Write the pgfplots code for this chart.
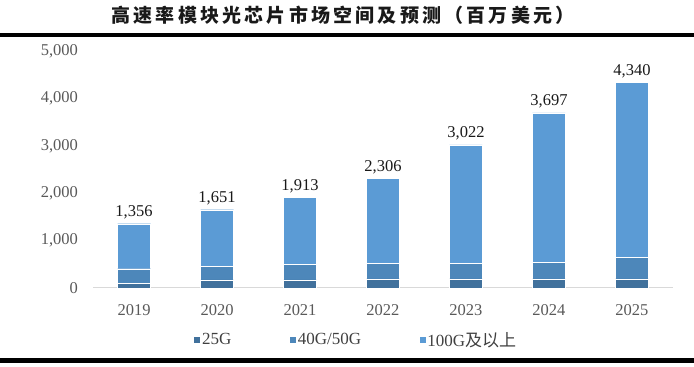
\documentclass[border=0pt]{standalone}
\usepackage{pgfplots}
\pgfplotsset{compat=1.18}
\usepackage{fontspec}
\setmainfont{Liberation Serif}
\newfontfamily\cjk{Noto Sans CJK SC}
\definecolor{c25}{HTML}{41719C}
\definecolor{c40}{HTML}{4D87BA}
\definecolor{c100}{HTML}{5B9BD5}
\definecolor{tickgray}{HTML}{595959}
\begin{document}
\begin{tikzpicture}[x=1pt,y=1pt]
\useasboundingbox (0,0) rectangle (694,367);
\fill[black] (0,329.5) rectangle (694,334);
\fill[black] (0,4) rectangle (694,8.7);
\node[font=\cjk\bfseries\fontsize{19}{21}\selectfont, text=black!90, inner sep=0pt] at (343,351.5)
  {\makebox[463pt][s]{高\hfill 速\hfill 率\hfill 模\hfill 块\hfill 光\hfill 芯\hfill 片\hfill 市\hfill 场\hfill 空\hfill 间\hfill 及\hfill 预\hfill 测\hfill （\hfill 百\hfill 万\hfill 美\hfill 元\hfill ）}};
\begin{axis}[
  at={(93pt,79pt)}, anchor=south west,
  scale only axis, width=580pt, height=237pt,
  ybar stacked, bar width=33pt,
  xmin=-0.494, xmax=6.494, ymin=0, ymax=5000,
  axis line style={draw=none},
  major tick length=0pt,
  xtick={0,1,2,3,4,5,6},
  xticklabels={2019,2020,2021,2022,2023,2024,2025},
  ytick={0,1000,2000,3000,4000,5000},
  scaled y ticks=false,
  /pgf/number format/.cd, 1000 sep={,}, assume math mode=true, /pgfplots/.cd,
  tick label style={font=\fontsize{16.5}{18}\selectfont, text=tickgray},
  yticklabel style={xshift=-11.5pt},
  xticklabel style={yshift=-13pt},
  legend columns=3,
  legend image code/.code={\fill[#1] (0pt,-3.5pt) rectangle (7pt,3.5pt);},
  legend style={draw=none, fill=none, at={(0.1724,-0.219)}, anchor=west,
    font=\fontsize{17}{19}\selectfont, text=black!75, inner sep=0pt,
    nodes={inner sep=1.5pt},
    /tikz/every even column/.append style={column sep=56pt}},
]
\addplot[fill=c25, draw=white, line width=0.4pt] coordinates {(0,100) (1,171) (2,171) (3,193) (4,193) (5,193) (6,193)};
\addplot[fill=c40, draw=white, line width=0.4pt] coordinates {(0,307) (1,292) (2,335) (3,334) (4,334) (5,349) (6,449)};
\addplot[fill=c100, draw=white, line width=0.4pt] coordinates {(0,949) (1,1188) (2,1407) (3,1779) (4,2495) (5,3155) (6,3698)};
\draw[black!15, line width=1pt] (rel axis cs:0,0) -- (rel axis cs:1,0);
\legend{25G, 40G/50G, 100G{\cjk 及以上}}
\end{axis}
\begin{axis}[
  at={(93pt,79pt)}, anchor=south west,
  scale only axis, width=580pt, height=237pt,
  ybar, bar width=33pt,
  xmin=-0.494, xmax=6.494, ymin=0, ymax=5000,
  hide axis,
  /pgf/number format/.cd, 1000 sep={,}, assume math mode=true, /pgfplots/.cd,
  nodes near coords,
  nodes near coords style={font=\fontsize{16.5}{18}\selectfont, text=black!90, inner sep=4.5pt, anchor=south},
]
\addplot[draw=none, fill=none] coordinates {(0,1356) (1,1651) (2,1913) (3,2306) (4,3022) (5,3697) (6,4340)};
\end{axis}
\end{tikzpicture}
\end{document}
